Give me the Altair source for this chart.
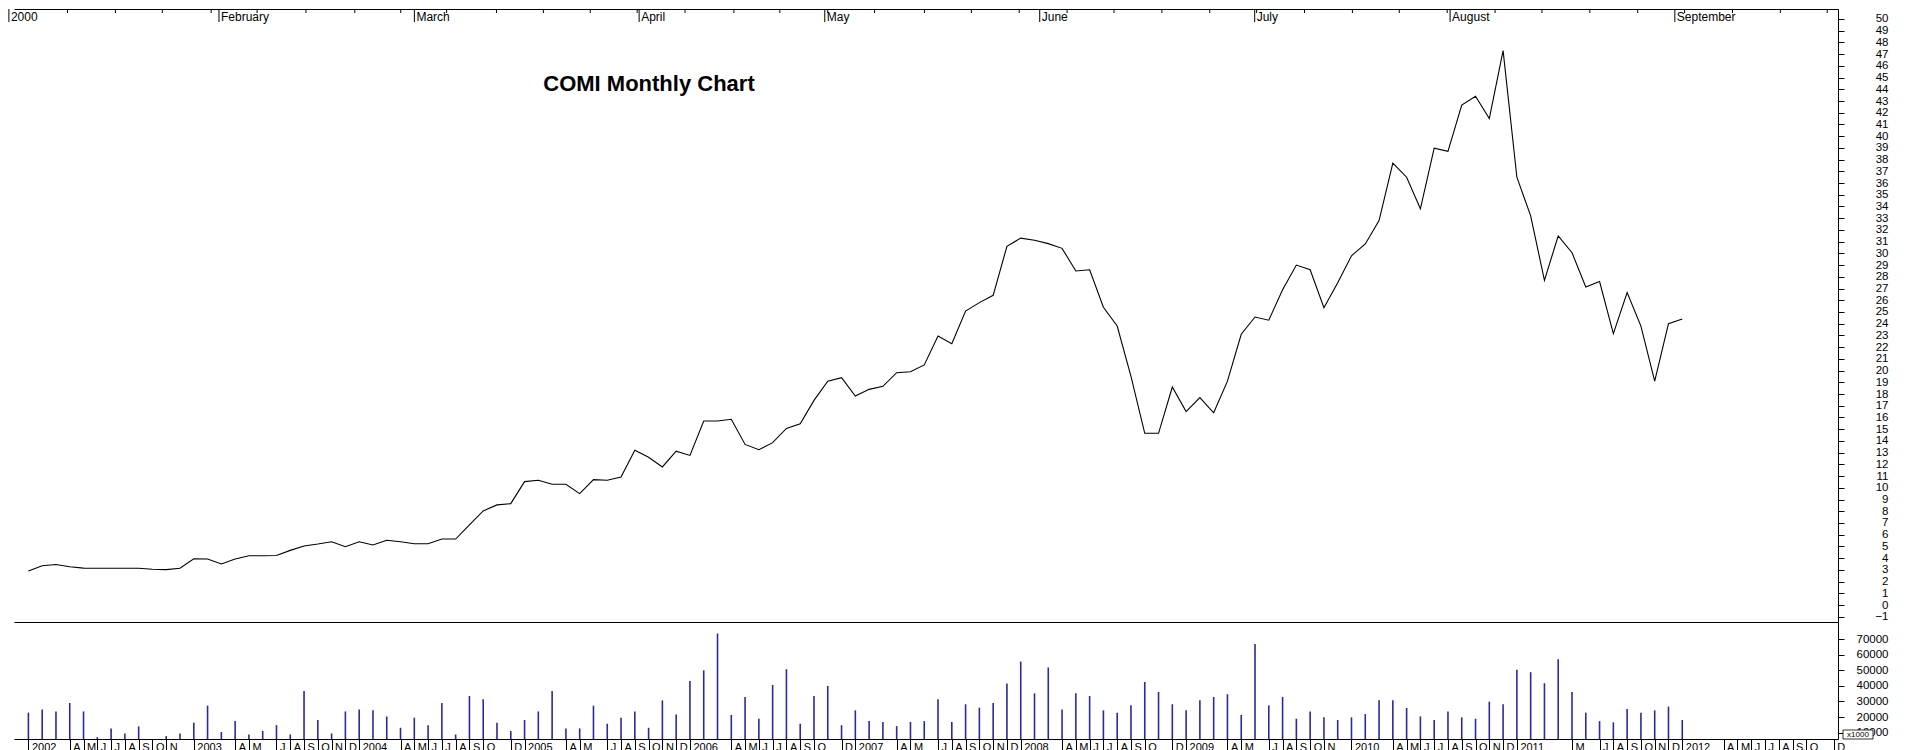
import altair as alt
import pandas as pd

# ---------------- data ----------------
start_year = 2002  # first bar = January 2002, monthly

price = [2.9, 3.35, 3.45, 3.27, 3.15, 3.13, 3.13, 3.13, 3.13, 3.05,
         3.02, 3.13, 3.95, 3.92, 3.5, 3.92, 4.2, 4.2, 4.22, 4.66,
         5.03, 5.2, 5.4, 4.97, 5.4, 5.12, 5.52, 5.4, 5.23, 5.23,
         5.63, 5.63, 6.83, 8.03, 8.54, 8.65, 10.53, 10.64, 10.3, 10.3,
         9.5, 10.7, 10.64, 10.92, 13.2, 12.6, 11.78, 13.13, 12.76, 15.7,
         15.7, 15.85, 13.7, 13.25, 13.85, 15.07, 15.47, 17.46, 19.1, 19.4,
         17.83, 18.4, 18.66, 19.82, 19.9, 20.48, 22.95, 22.3, 25.08, 25.8,
         26.42, 30.6, 31.3, 31.12, 30.83, 30.43, 28.5, 28.6, 25.4, 23.8,
         19.5, 14.65, 14.65, 18.6, 16.5, 17.7, 16.4, 19.1, 23.1, 24.57,
         24.3, 26.9, 29.0, 28.6, 25.37, 27.5, 29.8, 30.8, 32.8, 37.7,
         36.5, 33.8, 38.97, 38.7, 42.66, 43.4, 41.5, 47.3, 36.5, 33.2,
         27.7, 31.5, 30.06, 27.13, 27.6, 23.15, 26.65, 23.8, 19.1, 24.0,
         24.4]

volume = [22800, 24900, 23600, 29000, 23600, 7100, 12700, 9500, 14000, 5000,
          7800, 9500, 16400, 27300, 10400, 17400, 8800, 11000, 14800, 8800,
          36700, 18100, 9500, 23600, 24900, 24300, 20400, 13100, 19600, 14800,
          29000, 8800, 33500, 31400, 16400, 11000, 18100, 23600, 36700, 12700,
          12700, 27300, 15700, 19600, 23600, 13100, 30700, 21700, 43200, 50000,
          73600, 21300, 32900, 18900, 40600, 50700, 15700, 33500, 40000, 14800,
          24300, 17400, 16800, 14200, 16800, 17400, 31400, 16800, 28200, 26000,
          29000, 41500, 55600, 35200, 51800, 24900, 35200, 33500, 24300, 22800,
          27500, 42500, 36100, 28200, 24300, 30700, 32900, 34600, 21300, 66800,
          27500, 32900, 18900, 23600, 19800, 18100, 19800, 21900, 30700, 30700,
          25800, 20400, 18100, 23600, 19800, 18900, 29900, 28200, 50300, 48800,
          41700, 57100, 36100, 22800, 17400, 16600, 25200, 22800, 24300, 26700,
          18100]

# top (daily) axis: labels and their trading-day positions
top_labels = ["2000", "February", "March", "April", "May", "June", "July", "August", "September"]
top_label_day = [-1.5, 20, 40, 63, 82, 104, 126, 146, 169]
top_week_day = [4.5, 9.4, 14.2, 19.2, 23.9, 28.9, 33.9, 38.6, 43.3, 48.4, 53.2, 58.0,
                62.8, 67.7, 72.7, 77.4, 82.3, 87.1, 92.2, 97.0, 101.9, 106.8, 111.6,
                116.5, 121.4, 126.2, 131.1, 136.0, 140.8, 145.7, 150.6, 155.4, 160.3,
                165.2, 170.0, 174.9, 179.8, 184.6]

# bottom axis: months that carry a label (month index from Jan 2002)
bottom_label_idx = [0, 3, 4, 5, 6, 7, 8, 9, 10,
                    12, 15, 16, 18, 19, 20, 21, 22, 23,
                    24, 27, 28, 29, 30, 31, 32, 33, 35,
                    36, 39, 40, 42, 43, 44, 45, 46, 47,
                    48, 51, 52, 53, 54, 55, 56, 57, 59,
                    60, 63, 64, 66, 67, 68, 69, 70, 71,
                    72, 75, 76, 77, 78, 79, 80, 81, 83,
                    84, 87, 88, 90, 91, 92, 93, 94,
                    96, 99, 100, 101, 102, 103, 104, 105, 106, 107,
                    108, 112, 114, 115, 116, 117, 118, 119,
                    120, 123, 124, 125, 126, 127, 128, 129, 131]

price_ticks = list(range(-1, 51))
volume_ticks = [10000, 20000, 30000, 40000, 50000, 60000, 70000]
title_text = "COMI Monthly Chart"
unit_text = "x1000"

# ---------------- layout ----------------
W = 1824
H1 = 613
H2 = 117
FONT = "Liberation Sans"
X_DOM = [-1.045, 131.3]
DAY_DOM = [-0.98, 185.7]

df = pd.DataFrame({"idx": list(range(len(price))), "price": price, "volume": volume})
top_df = pd.DataFrame({"day": top_label_day, "label": top_labels})
week_df = pd.DataFrame({"day": top_week_day})
title_df = pd.DataFrame({"t": [title_text]})
unit_df = pd.DataFrame({"t": [unit_text]})


def xscale():
    return alt.Scale(domain=X_DOM, nice=False, zero=False)


def dscale():
    return alt.Scale(domain=DAY_DOM, nice=False, zero=False)


right_axis_common = dict(
    orient="right", domain=True, domainColor="black", domainWidth=1,
    ticks=True, tickColor="black", tickSize=6, labelAlign="right",
    labelBaseline="middle", labelPadding=44, labelFont=FONT, labelFontSize=11.5,
    labelColor="black", labelOverlap=False, labelBound=False, labelFlush=False,
    grid=False, title=None, format="d")

line = alt.Chart(df).mark_line(color="black", strokeWidth=1.1).encode(
    x=alt.X("idx:Q", scale=xscale(),
            axis=alt.Axis(orient="bottom", labels=False, ticks=False, domain=True,
                          domainColor="black", domainWidth=1.2, grid=False, title=None)),
    y=alt.Y("price:Q", scale=alt.Scale(domain=[-1.45, 50.85], nice=False, zero=False),
            axis=alt.Axis(values=price_ticks, **right_axis_common)),
)

week_ticks = alt.Chart(week_df).mark_rule(color="black", strokeWidth=1).encode(
    x=alt.X("day:Q", scale=dscale(), axis=None),
    y=alt.value(0), y2=alt.value(4))

month_ticks = alt.Chart(top_df).mark_rule(color="black", strokeWidth=1).encode(
    x=alt.X("day:Q", scale=dscale(),
            axis=alt.Axis(orient="top", labels=False, ticks=False, domain=True,
                          domainColor="black", domainWidth=1.2, grid=False, title=None)),
    y=alt.value(0), y2=alt.value(13))

month_text = alt.Chart(top_df).mark_text(
    align="left", baseline="alphabetic", dx=2, font=FONT, fontSize=12, color="black"
).encode(
    x=alt.X("day:Q", scale=dscale(), axis=None),
    y=alt.value(12), text="label:N")

title = alt.Chart(title_df).mark_text(
    font=FONT, fontSize=22, fontWeight="bold", color="black", align="center", baseline="middle"
).encode(x=alt.value(635), y=alt.value(75), text="t:N")

price_panel = alt.layer(line, week_ticks, month_ticks, month_text, title).resolve_scale(
    x="independent").properties(width=W, height=H1)

label_expr = ("datum.value % 12 == 0 ? toString(2002 + floor(datum.value / 12)) : "
              "['J','F','M','A','M','J','J','A','S','O','N','D'][datum.value % 12]")

bars = alt.Chart(df).mark_rule(color="#2a2a9a", strokeWidth=1.6).encode(
    x=alt.X("idx:Q", scale=xscale(),
            axis=alt.Axis(orient="bottom", values=bottom_label_idx, labelExpr=label_expr,
                          domain=True, domainColor="black", domainWidth=1.2,
                          ticks=True, tickColor="black", tickSize=11,
                          labelAlign="left", labelBaseline="top", labelPadding=-9,
                          labelOffset=3, labelFont=FONT, labelFontSize=11, labelColor="black",
                          labelOverlap=False, labelFlush=False, labelBound=False,
                          grid=False, title=None)),
    y=alt.Y("volume:Q", scale=alt.Scale(domain=[5900, 81000], nice=False, zero=False, clamp=True),
            axis=alt.Axis(values=volume_ticks, **right_axis_common)),
    y2=alt.datum(5900),
)

unit_box = alt.Chart(unit_df).mark_rect(fill="white", stroke="black", strokeWidth=0.8).encode(
    x=alt.value(1829), x2=alt.value(1859), y=alt.value(108), y2=alt.value(117))

unit_label = alt.Chart(unit_df).mark_text(
    font=FONT, fontSize=8, color="black", align="center", baseline="middle"
).encode(x=alt.value(1844), y=alt.value(112.5), text="t:N")

vol_panel = alt.layer(bars, unit_box, unit_label).properties(width=W, height=H2)

chart = alt.vconcat(price_panel, vol_panel, spacing=0, bounds="flush").resolve_scale(
    x="independent", y="independent"
).configure_view(stroke=None).properties(
    padding={"left": 0, "top": 0, "right": 10, "bottom": 0}, background="white")

chart.save("out.html", embed_options={"renderer": "svg", "actions": False})
